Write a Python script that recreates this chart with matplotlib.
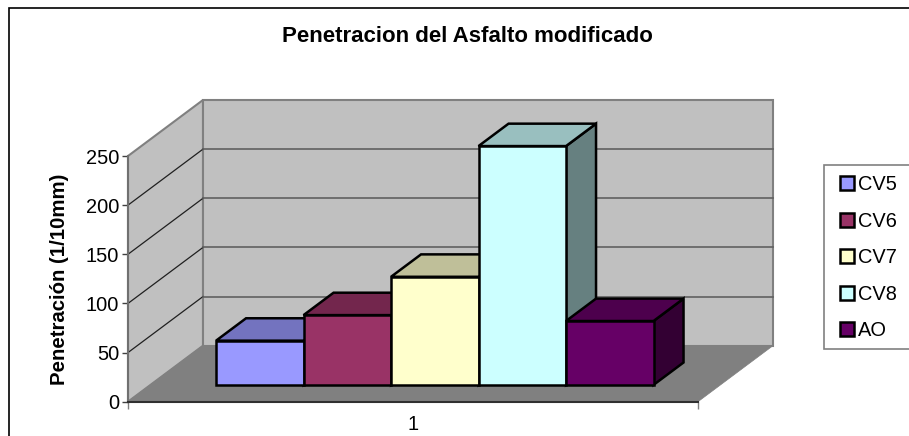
import matplotlib
matplotlib.use("Agg")
import matplotlib.pyplot as plt
from matplotlib.patches import Patch, Polygon, Rectangle

W, H = 909, 436

series_names = ["CV5", "CV6", "CV7", "CV8", "AO"]
penetration = [45, 71, 110, 243, 65]
front_colors = ["#9999FF", "#993366", "#FFFFCC", "#CCFFFF", "#660066"]
top_colors = ["#7373BF", "#73264D", "#BFBF99", "#99BFBF", "#4D004D"]
side_colors = ["#4D4D80", "#4D1A33", "#808066", "#668080", "#330033"]
y_ticks = [0, 50, 100, 150, 200, 250]
category_label = "1"

# oblique projection, in data units of the front plane
DEPTH_X = 0.1316
DEPTH_Y = 57.0
BAR_WIDTH = 0.1535
GAP = 0.115
D_FRONT = 0.30
D_BACK = 0.70


def project(x, v, d):
    """Move a point (slot position, value) back to depth d (0 to 1)."""
    return x + d * DEPTH_X, v + d * DEPTH_Y


def face(ax, points, color, edge="black", lw=1.8, z=3):
    ax.add_patch(Polygon(points, closed=True, facecolor=color, edgecolor=edge,
                         linewidth=lw, joinstyle="miter", clip_on=False, zorder=z))


def draw_walls(ax):
    ymax = y_ticks[-1]
    side = [project(0, 0, 0), project(0, ymax, 0), project(0, ymax, 1), project(0, 0, 1)]
    back = [project(0, 0, 1), project(0, ymax, 1), project(1, ymax, 1), project(1, 0, 1)]
    floor = [project(0, 0, 0), project(0, 0, 1), project(1, 0, 1), project(1, 0, 0)]
    face(ax, side, "#C0C0C0", edge="#808080", lw=1.5, z=1)
    face(ax, back, "#C0C0C0", edge="#808080", lw=1.5, z=1)
    for v in y_ticks[1:-1]:
        x0, y0 = project(0, v, 0)
        x1, y1 = project(0, v, 1)
        x2, y2 = project(1, v, 1)
        ax.plot([x0, x1], [y0, y1], color="#202020", lw=0.9, clip_on=False, zorder=1.5)
        ax.plot([x1, x2], [y1, y2], color="#606060", lw=1.2, clip_on=False, zorder=1.5)
    face(ax, floor, "#808080", edge="#808080", lw=0.5, z=2)
    x0, y0 = project(0, 0, 0)
    x1, y1 = project(1, 0, 0)
    ax.plot([x0, x1], [y0, y1], color="#303030", lw=1.5, clip_on=False, zorder=2.5)


def draw_bars(ax):
    for i, value in enumerate(penetration):
        left = GAP + i * BAR_WIDTH
        right = left + BAR_WIDTH
        z = 3 + i * 0.1
        front = [project(left, 0, D_FRONT), project(left, value, D_FRONT),
                 project(right, value, D_FRONT), project(right, 0, D_FRONT)]
        top = [project(left, value, D_FRONT), project(left, value, D_BACK),
               project(right, value, D_BACK), project(right, value, D_FRONT)]
        side = [project(right, 0, D_FRONT), project(right, value, D_FRONT),
                project(right, value, D_BACK), project(right, 0, D_BACK)]
        face(ax, side, side_colors[i], z=z)
        face(ax, top, top_colors[i], z=z)
        face(ax, front, front_colors[i], z=z)


def main():
    plt.rcParams["font.family"] = ["Liberation Sans", "DejaVu Sans"]
    fig = plt.figure(figsize=(W / 100, H / 100), dpi=100)

    # chart border runs off the right and bottom of the picture
    fig.add_artist(Rectangle((9 / W, -0.05), 1.0, 1.05 - 8.5 / H, transform=fig.transFigure,
                             facecolor="none", edgecolor="black", linewidth=1.2))
    # legend box, also cut by the right edge
    fig.add_artist(Rectangle((824 / W, 1 - 348.7 / H), 100 / W, 183.7 / H,
                             transform=fig.transFigure, facecolor="white",
                             edgecolor="#808080", linewidth=1.2))

    ax = fig.add_axes([128 / W, 1 - 401.7 / H, 570 / W, 245.7 / H])
    ax.set_xlim(0, 1)
    ax.set_ylim(0, y_ticks[-1])
    ax.patch.set_visible(False)
    for name in ["top", "right", "bottom"]:
        ax.spines[name].set_visible(False)
    ax.spines["left"].set_color("#707070")
    ax.spines["left"].set_linewidth(1.5)
    ax.spines["left"].set_zorder(2)

    draw_walls(ax)
    draw_bars(ax)

    ax.set_yticks(y_ticks)
    ax.tick_params(axis="y", labelsize=14.4, length=4.3, width=1, color="#404040", pad=2)
    ax.set_xticks([0, 1])
    ax.set_xticklabels(["", ""])
    ax.tick_params(axis="x", length=5, width=1, color="#808080")
    ax.set_xticks([0.5], [category_label], minor=True)
    ax.tick_params(axis="x", which="minor", length=0, labelsize=14.4, pad=9.5)
    ax.set_ylabel("Penetración (1/10mm)", fontsize=14.7, fontweight="bold", labelpad=12)

    fig.text(467 / W, 1 - 36.5 / H, "Penetracion del Asfalto modificado",
             fontsize=16, fontweight="bold", ha="center", va="center")

    handles = [Patch(facecolor=c, edgecolor="black", linewidth=1.8) for c in front_colors]
    fig.legend(handles, series_names, loc="upper left",
               bbox_to_anchor=(824 / W, 1 - 159 / H), borderaxespad=0,
               fontsize=14.4, frameon=False, borderpad=0.8, labelspacing=0.88,
               handlelength=0.7, handleheight=0.7, handletextpad=0.2)

    fig.savefig("out.png", dpi=100)


if __name__ == "__main__":
    main()
